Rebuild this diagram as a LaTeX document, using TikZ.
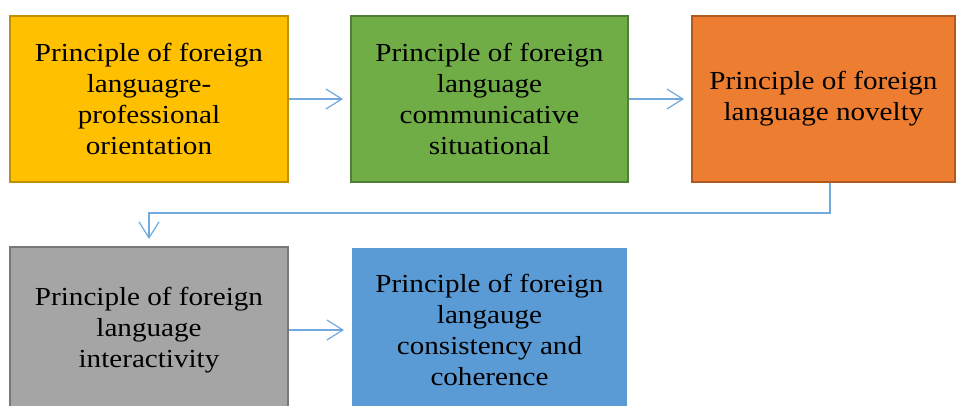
\documentclass[tikz,border=0pt]{standalone}
\usepackage{fontspec}
\setmainfont{Liberation Serif}[FakeStretch=1.12]
\usetikzlibrary{arrows.meta}
\definecolor{boxyellow}{HTML}{FFC000}
\definecolor{edgeyellow}{HTML}{BF9000}
\definecolor{boxgreen}{HTML}{70AD47}
\definecolor{edgegreen}{HTML}{507E32}
\definecolor{boxorange}{HTML}{ED7D31}
\definecolor{edgeorange}{HTML}{AE5A21}
\definecolor{boxgray}{HTML}{A5A5A5}
\definecolor{edgegray}{HTML}{787878}
\definecolor{boxblue}{HTML}{5B9BD5}
\definecolor{linkblue}{HTML}{72A9DD}
\begin{document}
\begin{tikzpicture}[x=1bp,y=-1bp,
    box/.style={minimum height=166bp, inner sep=0pt, align=center,
        font=\fontsize{26bp}{31bp}\selectfont, line width=2bp},
    link/.style={draw=linkblue, line width=1.2bp,
        -{Straight Barb[length=16bp,width=20bp]}, shorten >=7bp}]
    \clip (0,0) rectangle (957,405);
    % first row
    \node[box, fill=boxyellow, draw=edgeyellow, minimum width=278bp] (orient) at (149,99)
        {Principle of foreign\\languagre-\\professional\\orientation};
    \node[box, fill=boxgreen, draw=edgegreen, minimum width=277bp] (situat) at (489.5,99)
        {Principle of foreign\\language\\communicative\\situational};
    \node[box, fill=boxorange, draw=edgeorange, minimum width=263bp] (novelty) at (823.5,99)
        {Principle of foreign\\language novelty};
    % second row
    \node[box, fill=boxgray, draw=edgegray, minimum width=278bp] (interact) at (149,330)
        {Principle of foreign\\language\\interactivity};
    \node[box, fill=boxblue, minimum width=275bp, minimum height=164bp] (coher) at (489.5,330)
        {Principle of foreign\\langauge\\consistency and\\coherence};
    % connectors
    \draw[link] (orient.east) -- (situat.west);
    \draw[link] (situat.east) -- (novelty.west);
    \draw[link] ([xshift=6.5bp]novelty.south) -- ++(0,30) -| (interact.north);
    \draw[link] (interact.east) -- (coher.west);
\end{tikzpicture}
\end{document}
